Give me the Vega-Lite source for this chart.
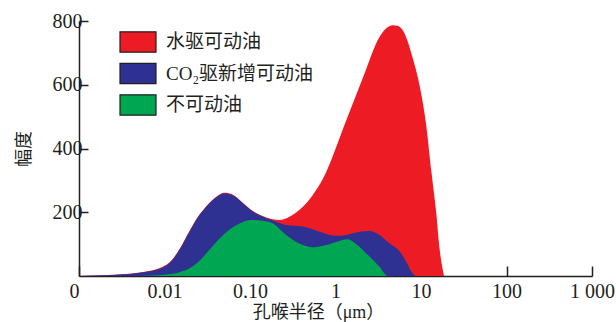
{
  "$schema": "https://vega.github.io/schema/vega-lite/v6.json",
  "autosize": {"type": "none"},
  "width": 513,
  "height": 255,
  "padding": {"left": 79, "top": 21, "right": 24, "bottom": 46},
  "background": "white",
  "config": {
    "view": {"stroke": null},
    "font": "Liberation Serif",
    "axis": {
      "labelFont": "Liberation Serif, Noto Sans CJK SC",
      "titleFont": "Liberation Serif, Noto Sans CJK SC",
      "labelFontSize": 20,
      "titleFontSize": 18,
      "titleFontWeight": "normal",
      "labelColor": "#231F20",
      "titleColor": "#231F20",
      "domainColor": "#231F20",
      "tickColor": "#231F20",
      "domainWidth": 1.5,
      "tickWidth": 1.5,
      "grid": false
    }
  },
  "data": {
    "values": [
      {"r": 0.001, "v": 0, "s": "水驱可动油"},
      {"r": 0.00248, "v": 4, "s": "水驱可动油"},
      {"r": 0.0039, "v": 7, "s": "水驱可动油"},
      {"r": 0.00611, "v": 14, "s": "水驱可动油"},
      {"r": 0.00955, "v": 29, "s": "水驱可动油"},
      {"r": 0.0114, "v": 42, "s": "水驱可动油"},
      {"r": 0.01496, "v": 84, "s": "水驱可动油"},
      {"r": 0.0196, "v": 141, "s": "水驱可动油"},
      {"r": 0.0235, "v": 178, "s": "水驱可动油"},
      {"r": 0.0308, "v": 219, "s": "水驱可动油"},
      {"r": 0.0403, "v": 249, "s": "水驱可动油"},
      {"r": 0.0504, "v": 261, "s": "水驱可动油"},
      {"r": 0.063, "v": 255, "s": "水驱可动油"},
      {"r": 0.0824, "v": 230, "s": "水驱可动油"},
      {"r": 0.108, "v": 204, "s": "水驱可动油"},
      {"r": 0.141, "v": 188, "s": "水驱可动油"},
      {"r": 0.185, "v": 178, "s": "水驱可动油"},
      {"r": 0.221, "v": 176, "s": "水驱可动油"},
      {"r": 0.29, "v": 186, "s": "水驱可动油"},
      {"r": 0.415, "v": 217, "s": "水驱可动油"},
      {"r": 0.543, "v": 254, "s": "水驱可动油"},
      {"r": 0.71, "v": 304, "s": "水驱可动油"},
      {"r": 1.33, "v": 487, "s": "水驱可动油"},
      {"r": 2.09, "v": 622, "s": "水驱可动油"},
      {"r": 3.27, "v": 750, "s": "水驱可动油"},
      {"r": 3.95, "v": 778, "s": "水驱可动油"},
      {"r": 4.68, "v": 787, "s": "水驱可动油"},
      {"r": 5.31, "v": 785, "s": "水驱可动油"},
      {"r": 6.12, "v": 771, "s": "水驱可动油"},
      {"r": 8.02, "v": 683, "s": "水驱可动油"},
      {"r": 9.6, "v": 599, "s": "水驱可动油"},
      {"r": 11.5, "v": 474, "s": "水驱可动油"},
      {"r": 13.2, "v": 330, "s": "水驱可动油"},
      {"r": 15.1, "v": 197, "s": "水驱可动油"},
      {"r": 16.4, "v": 92, "s": "水驱可动油"},
      {"r": 18.0, "v": 19, "s": "水驱可动油"},
      {"r": 18.8, "v": 0, "s": "水驱可动油"},
      {"r": 1000, "v": 0, "s": "水驱可动油"},
      {"r": 0.001, "v": 0, "s": "CO₂驱新增可动油"},
      {"r": 0.00248, "v": 3, "s": "CO₂驱新增可动油"},
      {"r": 0.0039, "v": 6, "s": "CO₂驱新增可动油"},
      {"r": 0.00611, "v": 13, "s": "CO₂驱新增可动油"},
      {"r": 0.00955, "v": 27, "s": "CO₂驱新增可动油"},
      {"r": 0.0114, "v": 40, "s": "CO₂驱新增可动油"},
      {"r": 0.01496, "v": 82, "s": "CO₂驱新增可动油"},
      {"r": 0.0196, "v": 139, "s": "CO₂驱新增可动油"},
      {"r": 0.0235, "v": 176, "s": "CO₂驱新增可动油"},
      {"r": 0.0308, "v": 217, "s": "CO₂驱新增可动油"},
      {"r": 0.0403, "v": 247, "s": "CO₂驱新增可动油"},
      {"r": 0.0504, "v": 259, "s": "CO₂驱新增可动油"},
      {"r": 0.063, "v": 253, "s": "CO₂驱新增可动油"},
      {"r": 0.0824, "v": 228, "s": "CO₂驱新增可动油"},
      {"r": 0.108, "v": 202, "s": "CO₂驱新增可动油"},
      {"r": 0.141, "v": 186, "s": "CO₂驱新增可动油"},
      {"r": 0.185, "v": 174, "s": "CO₂驱新增可动油"},
      {"r": 0.265, "v": 160, "s": "CO₂驱新增可动油"},
      {"r": 0.415, "v": 155, "s": "CO₂驱新增可动油"},
      {"r": 0.65, "v": 139, "s": "CO₂驱新增可动油"},
      {"r": 1.02, "v": 126, "s": "CO₂驱新增可动油"},
      {"r": 1.33, "v": 129, "s": "CO₂驱新增可动油"},
      {"r": 1.91, "v": 139, "s": "CO₂驱新增可动油"},
      {"r": 2.5, "v": 141, "s": "CO₂驱新增可动油"},
      {"r": 3.27, "v": 129, "s": "CO₂驱新增可动油"},
      {"r": 4.28, "v": 103, "s": "CO₂驱新增可动油"},
      {"r": 5.61, "v": 78, "s": "CO₂驱新增可动油"},
      {"r": 6.71, "v": 45, "s": "CO₂驱新增可动油"},
      {"r": 8.02, "v": 8, "s": "CO₂驱新增可动油"},
      {"r": 8.79, "v": 0, "s": "CO₂驱新增可动油"},
      {"r": 1000, "v": 0, "s": "CO₂驱新增可动油"},
      {"r": 0.001, "v": 0, "s": "不可动油"},
      {"r": 0.005, "v": 0, "s": "不可动油"},
      {"r": 0.0082, "v": 2, "s": "不可动油"},
      {"r": 0.01, "v": 4, "s": "不可动油"},
      {"r": 0.0125, "v": 7, "s": "不可动油"},
      {"r": 0.015, "v": 12, "s": "不可动油"},
      {"r": 0.0196, "v": 24, "s": "不可动油"},
      {"r": 0.0257, "v": 48, "s": "不可动油"},
      {"r": 0.0336, "v": 82, "s": "不可动油"},
      {"r": 0.044, "v": 118, "s": "不可动油"},
      {"r": 0.0575, "v": 146, "s": "不可动油"},
      {"r": 0.0753, "v": 165, "s": "不可动油"},
      {"r": 0.1033, "v": 176, "s": "不可动油"},
      {"r": 0.141, "v": 173, "s": "不可动油"},
      {"r": 0.185, "v": 165, "s": "不可动油"},
      {"r": 0.265, "v": 129, "s": "不可动油"},
      {"r": 0.415, "v": 97, "s": "不可动油"},
      {"r": 0.543, "v": 90, "s": "不可动油"},
      {"r": 0.778, "v": 97, "s": "不可动油"},
      {"r": 1.11, "v": 110, "s": "不可动油"},
      {"r": 1.39, "v": 115, "s": "不可动油"},
      {"r": 1.75, "v": 100, "s": "不可动油"},
      {"r": 2.5, "v": 61, "s": "不可动油"},
      {"r": 3.27, "v": 29, "s": "不可动油"},
      {"r": 4.09, "v": 0, "s": "不可动油"},
      {"r": 1000, "v": 0, "s": "不可动油"}
    ]
  },
  "encoding": {
    "x": {
      "field": "r",
      "type": "quantitative",
      "scale": {"type": "log", "domain": [0.001, 1000], "nice": false},
      "axis": {
        "title": "孔喉半径（μm）",
        "values": [0.001, 0.01, 0.1, 1, 10, 100, 1000],
        "labelExpr": "datum.value < 0.002 ? '0\u00a0' : datum.value < 0.02 ? '0.01' : datum.value < 0.2 ? '0.10' : datum.value < 2 ? '1' : datum.value < 20 ? '10' : datum.value < 200 ? '100' : '1 000'",
        "labelAlign": {"condition": {"test": "datum.value < 0.002", "value": "right"}, "value": "center"},
        "labelFlush": false,
        "labelOverlap": false,
        "tickSize": -10,
        "labelPadding": 15,
        "titleX": 239,
        "titleY": 27,
        "titleBaseline": "top",
        "titleAnchor": "middle"
      }
    },
    "y": {
      "field": "v",
      "type": "quantitative",
      "scale": {"domain": [0, 800], "nice": false},
      "axis": {
        "title": "幅度",
        "values": [200, 400, 600, 800],
        "tickSize": -9,
        "labelPadding": 6,
        "titlePadding": 19
      }
    },
    "color": {
      "field": "s",
      "type": "nominal",
      "scale": {
        "domain": ["水驱可动油", "CO₂驱新增可动油", "不可动油"],
        "range": ["#ED1C24", "#2E3192", "#00A651"]
      },
      "legend": {
        "title": null,
        "orient": "none",
        "legendX": 48,
        "legendY": 10,
        "padding": 0,
        "symbolType": "M-1.8,-1.02H1.8V1.02H-1.8Z",
        "symbolSize": 400,
        "symbolStrokeColor": "#231F20",
        "symbolStrokeWidth": 1.2,
        "symbolOpacity": 1,
        "labelFont": "Liberation Serif, Noto Sans CJK SC",
        "labelFontSize": 19,
        "labelColor": "#231F20",
        "labelOffset": 17,
        "labelLimit": 300,
        "rowPadding": 5.5
      }
    }
  },
  "layer": [
    {
      "transform": [{"filter": "datum.s === '水驱可动油'"}],
      "mark": {"type": "area", "interpolate": "monotone", "opacity": 1}
    },
    {
      "transform": [{"filter": "datum.s === 'CO₂驱新增可动油'"}],
      "mark": {"type": "area", "interpolate": "monotone", "opacity": 1}
    },
    {
      "transform": [{"filter": "datum.s === '不可动油'"}],
      "mark": {"type": "area", "interpolate": "monotone", "opacity": 1}
    }
  ]
}
